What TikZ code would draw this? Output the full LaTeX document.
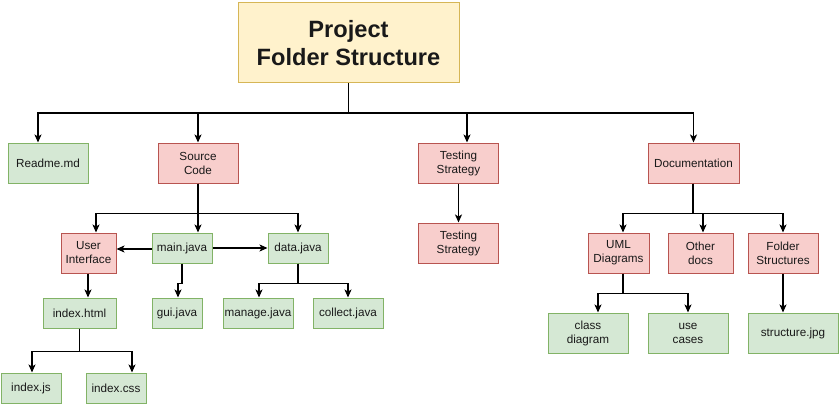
\documentclass[tikz,border=0pt]{standalone}
\usepackage{fontspec}
\setmainfont{Liberation Sans}
\usetikzlibrary{arrows.meta,positioning}
\definecolor{gfill}{HTML}{D5E8D4}
\definecolor{gdraw}{HTML}{82B366}
\definecolor{rfill}{HTML}{F8CECC}
\definecolor{rdraw}{HTML}{B85450}
\definecolor{yfill}{HTML}{FFF2CC}
\definecolor{ydraw}{HTML}{D6B656}
\tikzset{
  box/.style={draw, line width=1pt, inner sep=0pt, align=center,
    font=\fontsize{11.7}{14}\selectfont, text=black!90},
  gbox/.style={box, fill=gfill, draw=gdraw},
  rbox/.style={box, fill=rfill, draw=rdraw},
  ybox/.style={box, fill=yfill, draw=ydraw},
  sz/.style 2 args={minimum width=#1pt, minimum height=#2pt},
  conn/.style={line width=1.3pt, -{Stealth[length=8pt,width=7pt,inset=2pt]}},
  plain/.style={line width=1.3pt},
  thin/.style={line width=1pt}
}
\begin{document}
\begin{tikzpicture}[x=1pt,y=-1pt]
\useasboundingbox (0,0) rectangle (839,404);
% nodes
\node[ybox, sz={221}{80}, font=\fontsize{23.6}{27.7}\selectfont\bfseries] (title) at (348.5,43) {Project\\Folder Structure};
\node[gbox, sz={80}{40}] (readme) at (48,163) {Readme.md};
\node[rbox, sz={80}{40}] (source) at (198,163) {Source\\Code};
\node[rbox, sz={80}{40}] (test1) at (458.5,163) {Testing\\Strategy};
\node[rbox, sz={91}{40}] (doc) at (693.5,163) {Documentation};
\node[rbox, sz={55}{40}] (ui) at (88.5,253) {User\\Interface};
\node[gbox, sz={60}{30}] (main) at (182,248) {main.java};
\node[gbox, sz={60}{30}] (data) at (298,248) {data.java};
\node[gbox, sz={73}{30}] (indexhtml) at (79.5,313) {index.html};
\node[gbox, sz={50}{30}] (gui) at (177,313) {gui.java};
\node[gbox, sz={70}{30}] (manage) at (258,313) {manage.java};
\node[gbox, sz={70}{30}] (collect) at (348,313) {collect.java};
\node[gbox, sz={60}{30}] (indexjs) at (31,388) {index.js};
\node[gbox, sz={60}{30}] (indexcss) at (116,388) {index.css};
\node[rbox, sz={80}{40}] (test2) at (458.5,243) {Testing\\Strategy};
\node[rbox, sz={61}{40}] (uml) at (618.5,253) {UML\\Diagrams};
\node[rbox, sz={65}{40}] (other) at (700.5,253) {Other\\docs};
\node[rbox, sz={70}{40}] (folder) at (783,253) {Folder\\Structures};
\node[gbox, sz={80}{40}] (class) at (588,333) {class\\diagram};
\node[gbox, sz={80}{40}] (use) at (688,333) {use\\cases};
\node[gbox, sz={90}{40}] (structure) at (793,333) {structure.jpg};
% connectors from title
\coordinate (busT) at (348,113);
\draw[thin] (title.south -| busT) -- (busT);
\draw[conn] (busT) -| ([xshift=-10pt]readme.north);
\draw[conn] (busT) -| (source.north);
\draw[conn] (busT) -| ([xshift=8.5pt]test1.north);
\draw[conn] (busT) -| (doc.north);
% source code
\draw[conn] (source.south) -- ++(0,30) -| ([xshift=7.5pt]ui.north);
\draw[conn] (source.south) -- ++(0,30) -| ([xshift=16pt]main.north);
\draw[conn] (source.south) -- ++(0,30) -| (data.north);
\draw[conn] ([yshift=-1pt]main.west) -- ([yshift=-1pt]main.west -| ui.east);
\draw[conn] (main.east) -- (data.west);
\draw[conn] ([xshift=-0.5pt]ui.south) -- ([xshift=-0.5pt]ui.south |- indexhtml.north);
\draw[conn] (main.south) -- ++(0,20) -| ([xshift=1pt]gui.north);
\draw[conn] (data.south) -- ++(0,20) -| ([xshift=1pt]manage.north);
\draw[conn] (data.south) -- ++(0,20) -| (collect.north);
\draw[conn] (indexhtml.south) -- ++(0,23) -| ([xshift=1pt]indexjs.north);
\draw[conn] (indexhtml.south) -- ++(0,23) -| ([xshift=16pt]indexcss.north);
% testing
\draw[conn] (test1.south) -- (test2.north);
% documentation
\draw[conn] ([xshift=-0.5pt]doc.south) -- ++(0,30) -| ([xshift=4.5pt]uml.north);
\draw[conn] ([xshift=-0.5pt]doc.south) -- ++(0,30) -| ([xshift=2.5pt]other.north);
\draw[conn] ([xshift=-0.5pt]doc.south) -- ++(0,30) -| (folder.north);
\draw[conn] ([xshift=4.5pt]uml.south) -- ++(0,20) -| ([xshift=10pt]class.north);
\draw[conn] ([xshift=4.5pt]uml.south) -- ++(0,20) -| (use.north);
\draw[conn] (folder.south) -- (folder.south |- structure.north);
\end{tikzpicture}
\end{document}
